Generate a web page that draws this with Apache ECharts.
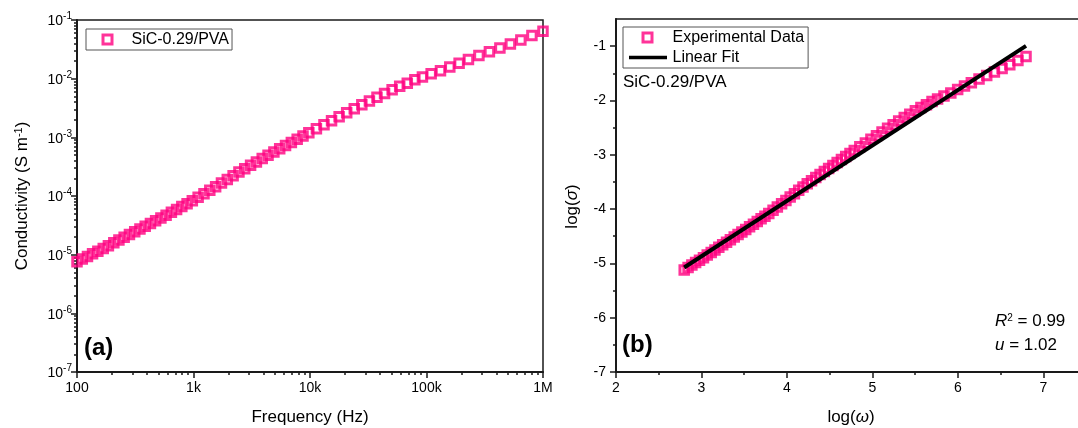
<!DOCTYPE html>
<html>
<head>
<meta charset="utf-8">
<script src="https://cdn.jsdelivr.net/npm/echarts@6/dist/echarts.min.js"></script>
<style>
html,body{margin:0;padding:0;background:#fff;}
#chart{width:1078px;height:428px;}
</style>
</head>
<body>
<div id="chart"></div>
<script>
// ---------------- data ----------------
const freqHz = [100, 111, 123, 136, 151, 168, 186, 207, 229, 254, 282, 313, 347, 385, 427, 473, 525, 582, 646, 716, 794, 881, 977,
  1096, 1230, 1380, 1549, 1738, 1950, 2188, 2455, 2754, 3090, 3467, 3890, 4365, 4898, 5495, 6166, 6918, 7762, 8710, 9772,
  11350, 13183, 15311, 17783, 20654, 23988, 27861, 32359, 37584, 43652, 50700, 58884, 68391, 79433, 92257,
  109648, 131826, 158489, 190546, 229087, 281838, 346737, 426580, 524807, 645654, 803526, 1000000];
const sigmaSm = [7.59e-6, 8.41e-6, 9.33e-6, 1.035e-5, 1.148e-5, 1.276e-5, 1.422e-5, 1.589e-5, 1.770e-5, 1.972e-5, 2.200e-5, 2.455e-5, 2.735e-5, 3.048e-5, 3.400e-5, 3.793e-5, 4.227e-5, 4.710e-5, 5.26e-5, 5.90e-5, 6.61e-5, 7.40e-5, 8.30e-5,
  9.53e-5, 1.094e-4, 1.256e-4, 1.442e-4, 1.663e-4, 1.920e-4, 2.218e-4, 2.560e-4, 2.924e-4, 3.338e-4, 3.810e-4, 4.350e-4, 4.943e-4, 5.611e-4, 6.368e-4, 7.228e-4, 8.204e-4, 9.311e-4, 1.057e-3, 1.200e-3,
  1.406e-3, 1.645e-3, 1.923e-3, 2.251e-3, 2.634e-3, 3.083e-3, 3.589e-3, 4.169e-3, 4.842e-3, 5.598e-3, 6.456e-3, 7.439e-3, 8.347e-3, 9.550e-3, 1.068e-2,
  1.207e-2, 1.368e-2, 1.585e-2, 1.837e-2, 2.128e-2, 2.483e-2, 2.871e-2, 3.330e-2, 3.890e-2, 4.550e-2, 5.420e-2, 6.457e-2];
const freqTickLabels = ['100', '1k', '10k', '100k', '1M'];
const freqDecades = [2, 3, 4, 5, 6];
const sigmaDecades = [-7, -6, -5, -4, -3, -2, -1];
const logOmegaTicks = [2, 3, 4, 5, 6, 7];
const logSigmaTicks = [-7, -6, -5, -4, -3, -2, -1];
const fitSlope = 1.02;
const fitIntercept = -7.93;
const fitR2 = '0.99';
const fitU = '1.02';
const sampleName = 'SiC-0.29/PVA';

// ---------------- derived ----------------
const FONT = '"Liberation Sans", Arial, sans-serif';
const PINK = '#FF0080';
const AXC = '#1a1a1a';
const leftData = freqHz.map((f, i) => [Math.log10(f), Math.log10(sigmaSm[i])]);
const rightData = freqHz.map((f, i) => [Math.log10(2 * Math.PI * f), Math.log10(sigmaSm[i])]);
const xs = rightData.map(d => d[0]);
const fx0 = Math.min(...xs), fx1 = Math.max(...xs);
const fitData = [[fx0, fitSlope * fx0 + fitIntercept], [fx1, fitSlope * fx1 + fitIntercept]];

const minorLogs = [];
for (let d = 2; d < 6; d++) for (let k = 2; k <= 9; k++) minorLogs.push(d + Math.log10(k));
const minorLogsY = [];
for (let d = -7; d < -1; d++) for (let k = 2; k <= 9; k++) minorLogsY.push(d + Math.log10(k));
const minorOmega = logOmegaTicks.map(v => v + 0.5);
const minorSigma = logSigmaTicks.slice(0, -1).map(v => v + 0.5);

function majorAxis(o) {
  return Object.assign({
    type: 'value', splitLine: { show: false },
    axisLine: { show: true, onZero: false, lineStyle: { color: AXC, width: 2 } },
    axisTick: { show: true, inside: false, length: 6, lineStyle: { color: AXC, width: 1.5 } },
    axisLabel: { color: '#000', fontFamily: FONT, fontSize: 14 },
    nameTextStyle: { color: '#000', fontFamily: FONT, fontSize: 17 }
  }, o);
}
function minorAxis(o, vals) {
  return Object.assign({
    type: 'value', splitLine: { show: false },
    axisLine: { show: false, onZero: false },
    axisTick: { show: true, inside: false, length: 3, customValues: vals, lineStyle: { color: AXC, width: 1.5 } },
    axisLabel: { show: false }
  }, o);
}

const supRich = {
  b: { fontSize: 14, fontFamily: FONT, color: '#000', verticalAlign: 'bottom' },
  s: { fontSize: 10, fontFamily: FONT, color: '#000', verticalAlign: 'bottom', padding: [0, 0, 7, 0] }
};

const markerStyle = { color: 'rgba(255,255,255,0)', borderColor: PINK, borderWidth: 3 };
const legendMarkerStyle = { color: 'rgba(255,255,255,0)', borderColor: PINK, borderWidth: 3 };

const option = {
  animation: false,
  backgroundColor: '#fff',
  grid: [
    { left: 77, top: 20, width: 466, height: 352, show: true, borderColor: AXC, borderWidth: 1.5, backgroundColor: 'transparent', outerBoundsMode: 'none', containLabel: false },
    { left: 616, top: 19, width: 470, height: 353, show: true, borderColor: AXC, borderWidth: 1.5, backgroundColor: 'transparent', outerBoundsMode: 'none', containLabel: false }
  ],
  xAxis: [
    majorAxis({
      gridIndex: 0, min: 2, max: 6, position: 'bottom',
      name: 'Frequency (Hz)', nameLocation: 'middle', nameGap: 37,
      axisTick: { show: true, length: 6, customValues: freqDecades, lineStyle: { color: AXC, width: 1.5 } },
      axisLabel: { color: '#000', fontFamily: FONT, fontSize: 14, margin: 9, customValues: freqDecades,
        formatter: v => freqTickLabels[freqDecades.indexOf(Math.round(v))] }
    }),
    minorAxis({ gridIndex: 0, min: 2, max: 6, position: 'bottom' }, minorLogs),
    majorAxis({
      gridIndex: 1, min: 2, max: 7.5, position: 'bottom',
      name: 'log({i|ω})', nameLocation: 'middle', nameGap: 37,
      nameTextStyle: { color: '#000', fontFamily: FONT, fontSize: 17,
        rich: { i: { fontStyle: 'italic', fontFamily: FONT, fontSize: 17, color: '#000' } } },
      axisTick: { show: true, length: 6, customValues: logOmegaTicks, lineStyle: { color: AXC, width: 1.5 } },
      axisLabel: { color: '#000', fontFamily: FONT, fontSize: 14, margin: 9, customValues: logOmegaTicks }
    }),
    minorAxis({ gridIndex: 1, min: 2, max: 7.5, position: 'bottom' }, minorOmega)
  ],
  yAxis: [
    majorAxis({
      gridIndex: 0, min: -7, max: -1, position: 'left',
      name: 'Conductivity (S m{s|-1})', nameLocation: 'middle', nameGap: 45,
      nameTextStyle: { color: '#000', fontFamily: FONT, fontSize: 17,
        rich: { s: { fontSize: 11, fontFamily: FONT, color: '#000', verticalAlign: 'bottom', padding: [0, 0, 8, 0] } } },
      axisTick: { show: true, length: 6, customValues: sigmaDecades, lineStyle: { color: AXC, width: 1.5 } },
      axisLabel: { margin: 5, customValues: sigmaDecades, formatter: v => '{b|10}{s|' + Math.round(v) + '}', rich: supRich }
    }),
    minorAxis({ gridIndex: 0, min: -7, max: -1, position: 'left' }, minorLogsY),
    majorAxis({
      gridIndex: 1, min: -7, max: -0.5, position: 'left',
      name: 'log({i|σ})', nameLocation: 'middle', nameGap: 35,
      nameTextStyle: { color: '#000', fontFamily: FONT, fontSize: 17, padding: [0, 22, 0, 0],
        rich: { i: { fontStyle: 'italic', fontFamily: FONT, fontSize: 17, color: '#000' } } },
      axisTick: { show: true, length: 6, customValues: logSigmaTicks, lineStyle: { color: AXC, width: 1.5 } },
      axisLabel: { color: '#000', fontFamily: FONT, fontSize: 14, margin: 10, customValues: logSigmaTicks }
    }),
    minorAxis({ gridIndex: 1, min: -7, max: -0.5, position: 'left' }, minorSigma)
  ],
  legend: [
    {
      data: [{ name: sampleName, icon: 'path://M0,5L0,5M38,5L38,5M14.5,0.5h9v9h-9z', itemStyle: legendMarkerStyle }],
      left: 86, top: 29, orient: 'vertical',
      itemWidth: 38, itemHeight: 10, padding: [2.5, 3, 2.5, 1],
      borderColor: '#555', borderWidth: 1, backgroundColor: '#fff',
      textStyle: { color: '#000', fontFamily: FONT, fontSize: 16, lineHeight: 16 }
    },
    {
      data: [
        { name: 'Experimental Data', icon: 'path://M0,5L0,5M40,5L40,5M15.5,0.5h9v9h-9z', itemStyle: legendMarkerStyle },
        { name: 'Linear Fit', icon: 'path://M0,0L0,0M0,10L0,10M1,3.2h38v3.6h-38z', itemStyle: { color: '#000', borderWidth: 0 } }
      ],
      left: 623, top: 27, orient: 'vertical',
      itemWidth: 40, itemHeight: 10, itemGap: 4, padding: [2.5, 4, 2.5, 3],
      borderColor: '#555', borderWidth: 1, backgroundColor: '#fff',
      textStyle: { color: '#000', fontFamily: FONT, fontSize: 16, lineHeight: 16 }
    }
  ],
  series: [
    {
      name: sampleName, type: 'scatter', xAxisIndex: 0, yAxisIndex: 0,
      symbol: 'rect', symbolSize: 8.5, itemStyle: markerStyle, data: leftData
    },
    {
      name: 'Experimental Data', type: 'scatter', xAxisIndex: 2, yAxisIndex: 2,
      symbol: 'rect', symbolSize: 8.5, itemStyle: markerStyle, data: rightData
    },
    {
      name: 'Linear Fit', type: 'line', xAxisIndex: 2, yAxisIndex: 2,
      symbol: 'none', lineStyle: { color: '#000', width: 4 }, itemStyle: { color: '#000', borderWidth: 0 },
      data: fitData, z: 5
    }
  ],
  graphic: [
    { type: 'text', left: 84, top: 336, style: { text: '(a)', font: 'bold 24px ' + FONT, fill: '#000' } },
    { type: 'text', left: 622, top: 333, style: { text: '(b)', font: 'bold 24px ' + FONT, fill: '#000' } },
    { type: 'text', left: 623, top: 74, style: { text: sampleName, font: '17px ' + FONT, fill: '#000' } },
    { type: 'text', left: 995, top: 313, style: {
        text: '{i|R}{s|2} = ' + fitR2,
        rich: {
          i: { fontStyle: 'italic', fontSize: 17, fontFamily: FONT, fill: '#000', verticalAlign: 'bottom' },
          s: { fontSize: 10, fontFamily: FONT, fill: '#000', verticalAlign: 'bottom', padding: [0, 0, 7, 0] }
        },
        font: '17px ' + FONT, fill: '#000' } },
    { type: 'text', left: 995, top: 337, style: {
        text: '{i|u} = ' + fitU,
        rich: { i: { fontStyle: 'italic', fontSize: 17, fontFamily: FONT, fill: '#000' } },
        font: '17px ' + FONT, fill: '#000' } }
  ]
};
const chart = echarts.init(document.getElementById('chart'), null, { renderer: 'canvas' });
chart.setOption(option);
</script>
</body>
</html>
